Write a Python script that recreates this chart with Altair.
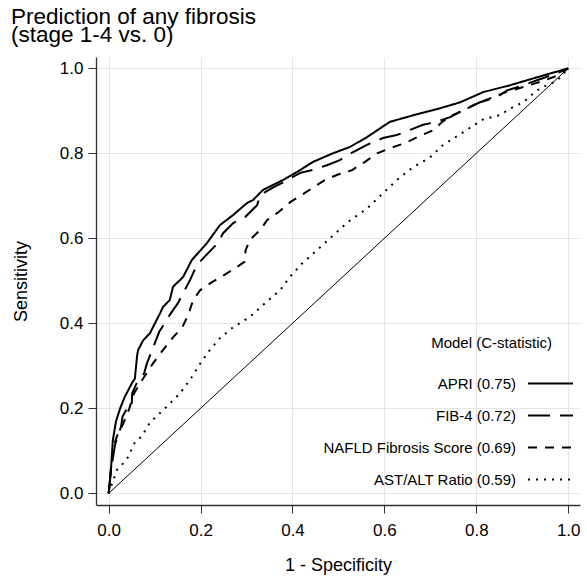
import altair as alt
import pandas as pd

models = ["APRI (0.75)", "FIB-4 (0.72)", "NAFLD Fibrosis Score (0.69)", "AST/ALT Ratio (0.59)"]

apri_x = [0, 0.005, 0.009, 0.016, 0.025, 0.035, 0.051, 0.057, 0.062, 0.064, 0.075, 0.09, 0.096, 0.112, 0.118,
          0.133, 0.14, 0.162, 0.181, 0.214, 0.242, 0.271, 0.301, 0.314, 0.336, 0.379, 0.41, 0.445, 0.488,
          0.525, 0.562, 0.612, 0.671, 0.721, 0.765, 0.815, 0.873, 0.939, 1.0]
apri_y = [0, 0.055, 0.125, 0.17, 0.2, 0.227, 0.26, 0.27, 0.325, 0.337, 0.36, 0.377, 0.39, 0.424, 0.438,
          0.455, 0.486, 0.509, 0.549, 0.589, 0.631, 0.655, 0.683, 0.69, 0.714, 0.737, 0.756, 0.78, 0.8,
          0.815, 0.838, 0.874, 0.892, 0.906, 0.92, 0.944, 0.96, 0.981, 1.0]

fib4_x = [0, 0.005, 0.014, 0.027, 0.03, 0.038, 0.05, 0.051, 0.062, 0.077, 0.083, 0.11, 0.116, 0.133, 0.151,
          0.162, 0.177, 0.192, 0.21, 0.238, 0.249, 0.271, 0.297, 0.323, 0.33, 0.358, 0.38, 0.417, 0.445,
          0.475, 0.503, 0.532, 0.562, 0.597, 0.627, 0.656, 0.684, 0.714, 0.743, 0.78, 0.808, 0.845, 0.867,
          0.902, 0.932, 0.975, 1.0]
fib4_y = [0, 0.055, 0.115, 0.157, 0.18, 0.196, 0.2, 0.235, 0.262, 0.282, 0.305, 0.38, 0.39, 0.42, 0.448,
          0.471, 0.502, 0.537, 0.558, 0.589, 0.612, 0.636, 0.65, 0.678, 0.702, 0.72, 0.732, 0.754, 0.761,
          0.772, 0.784, 0.803, 0.82, 0.836, 0.843, 0.855, 0.867, 0.874, 0.885, 0.906, 0.92, 0.932, 0.948,
          0.96, 0.972, 0.988, 1.0]

nafld_x = [0, 0.005, 0.01, 0.02, 0.03, 0.045, 0.055, 0.075, 0.096, 0.118, 0.14, 0.16, 0.173, 0.184, 0.199,
           0.225, 0.25, 0.28, 0.296, 0.298, 0.307, 0.33, 0.345, 0.37, 0.395, 0.417, 0.443, 0.47, 0.499,
           0.529, 0.558, 0.584, 0.612, 0.645, 0.671, 0.706, 0.725, 0.749, 0.78, 0.801, 0.836, 0.867, 0.902,
           0.939, 0.982, 1.0]
nafld_y = [0, 0.06, 0.11, 0.14, 0.16, 0.2, 0.235, 0.27, 0.305, 0.337, 0.367, 0.39, 0.42, 0.455, 0.478,
           0.497, 0.513, 0.533, 0.545, 0.572, 0.596, 0.62, 0.643, 0.662, 0.685, 0.7, 0.718, 0.737, 0.75,
           0.76, 0.78, 0.8, 0.812, 0.824, 0.838, 0.854, 0.873, 0.89, 0.905, 0.917, 0.932, 0.945, 0.956,
           0.968, 0.985, 1.0]

astalt_x = [0, 0.018, 0.031, 0.042, 0.057, 0.072, 0.09, 0.118, 0.155, 0.177, 0.199, 0.22, 0.242, 0.27, 0.307,
            0.34, 0.373, 0.395, 0.42, 0.449, 0.486, 0.52, 0.562, 0.597, 0.627, 0.662, 0.699, 0.728, 0.758,
            0.786, 0.815, 0.852, 0.873, 0.902, 0.932, 0.953, 0.975, 1.0]
astalt_y = [0, 0.055, 0.07, 0.085, 0.12, 0.134, 0.167, 0.195, 0.235, 0.267, 0.305, 0.337, 0.365, 0.39, 0.415,
            0.447, 0.478, 0.51, 0.54, 0.568, 0.604, 0.638, 0.67, 0.706, 0.737, 0.767, 0.79, 0.82, 0.84,
            0.86, 0.88, 0.89, 0.905, 0.92, 0.948, 0.96, 0.97, 1.0]

ref_x = [0, 1]
ref_y = [0, 1]

tick_values = [0, 0.2, 0.4, 0.6, 0.8, 1.0]

rows = []
for name, xs, ys in zip(models, [apri_x, fib4_x, nafld_x, astalt_x], [apri_y, fib4_y, nafld_y, astalt_y]):
    for i, (a, b) in enumerate(zip(xs, ys)):
        rows.append({"model": name, "fpr": a, "tpr": b, "i": i})
df = pd.DataFrame(rows)
ref = pd.DataFrame({"fpr": ref_x, "tpr": ref_y, "i": [0, 1]})

FONT = "Liberation Sans"
xdom = [-0.0276, 1.0257]
ydom = [-0.0275, 1.0266]

xenc = alt.X("fpr:Q", scale=alt.Scale(domain=xdom, nice=False, zero=False),
             axis=alt.Axis(values=tick_values, format=".1f", title="1 - Specificity"))
yenc = alt.Y("tpr:Q", scale=alt.Scale(domain=ydom, nice=False, zero=False),
             axis=alt.Axis(values=tick_values, format=".1f", title="Sensitivity"))

curves = alt.Chart(df).mark_line(color="black", strokeWidth=2, strokeCap="butt").encode(
    x=xenc,
    y=yenc,
    order="i:Q",
    strokeDash=alt.StrokeDash(
        "model:N",
        scale=alt.Scale(domain=models, range=[[1, 0], [22, 10], [9, 8], [2, 6]]),
        legend=alt.Legend(
            orient="none", legendX=335, legendY=279,
            title="Model (C-statistic)", titleFont=FONT, titleFontSize=15,
            titleFontWeight="normal", titleColor="black", titleAnchor="middle",
            titleAlign="right", titlePadding=9, titleLimit=400,
            symbolType="stroke", symbolSize=2025, symbolStrokeWidth=2,
            symbolStrokeColor="black",
            labelFont=FONT, labelFontSize=15, labelColor="black", labelLimit=400,
            labelAlign="right", labelOffset={"expr": "-58"}, rowPadding=0,
        ),
    ),
)

diag = alt.Chart(ref).mark_line(color="black", strokeWidth=1).encode(
    x=alt.X("fpr:Q", scale=alt.Scale(domain=xdom, nice=False, zero=False)),
    y=alt.Y("tpr:Q", scale=alt.Scale(domain=ydom, nice=False, zero=False)),
    order="i:Q",
)

chart = alt.layer(diag, curves).properties(
    width=484, height=448,
    title=alt.TitleParams(
        text=["Prediction of any fibrosis", "(stage 1-4 vs. 0)"],
        anchor="start", frame="group", dx=-85, offset=11,
        font=FONT, fontSize=22.5, fontWeight="normal", color="black", lineHeight=17.5,
    ),
    padding={"left": 96, "top": 57, "right": 7, "bottom": 77},
    autosize=alt.AutoSizeParams(type="none"),
).configure_view(stroke=None).configure_axis(
    labelFont=FONT, labelFontSize=17, labelColor="black", labelPadding=5,
    titleFont=FONT, titleFontSize=18, titleFontWeight="normal", titleColor="black",
    tickSize=8, tickColor="#333333", domainColor="#333333", domainWidth=1.3,
    gridColor="#e6e6e6", gridWidth=1,
).configure_axisY(titlePadding=29).configure_axisX(titlePadding=18, labelPadding=9)

chart.save("out.html", embed_options={"renderer": "svg", "actions": False})
